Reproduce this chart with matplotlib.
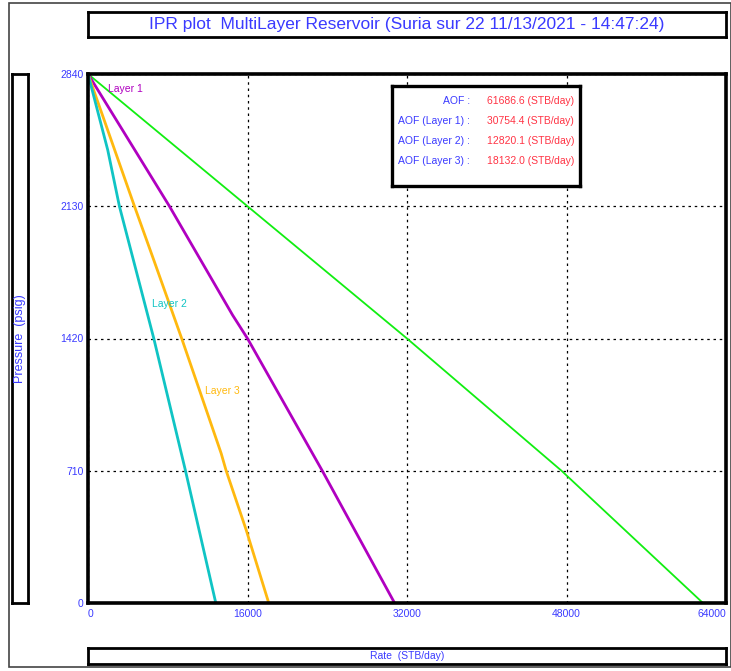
import matplotlib
matplotlib.use("Agg")
import matplotlib.pyplot as plt
from matplotlib.patches import Rectangle

plt.rcParams['font.family'] = ['Liberation Sans Narrow', 'Liberation Sans', 'DejaVu Sans']

# data (rate STB/day vs pressure psig)
layer1_rate = [0, 8170, 14500, 16000, 23500, 30754.4]
layer1_pres = [2840, 2130, 1546, 1420, 710, 0]
layer2_rate = [0, 1980, 3150, 6600, 9780, 12820.1]
layer2_pres = [2840, 2432, 2130, 1420, 710, 0]
layer3_rate = [0, 4660, 6600, 9400, 11180, 13360, 13860, 15870, 18132.0]
layer3_pres = [2840, 2130, 1841, 1420, 1143, 803, 710, 392, 0]
total_rate = [0, 16000, 32000, 47500, 61686.6]
total_pres = [2840, 2130, 1420, 710, 0]

x_ticks = [0, 16000, 32000, 48000, 64000]
y_ticks = [0, 710, 1420, 2130, 2840]

aof_labels = ["AOF :", "AOF (Layer 1) :", "AOF (Layer 2) :", "AOF (Layer 3) :"]
aof_values = ["61686.6 (STB/day)", "30754.4 (STB/day)", "12820.1 (STB/day)", "18132.0 (STB/day)"]

BLUE = '#3a3aff'
RED = '#ff3344'
W, H = 731, 671

fig = plt.figure(figsize=(W / 100, H / 100), dpi=100)


def box(x0, y0, x1, y1, **kw):
    # pixel coords from top-left -> figure fraction axes
    return fig.add_axes([x0 / W, 1 - y1 / H, (x1 - x0) / W, (y1 - y0) / H], **kw)


def plain(a, lw=2.0):
    a.set_xticks([])
    a.set_yticks([])
    for s in a.spines.values():
        s.set_linewidth(lw)
    return a


# outer frame
fig.patches.append(Rectangle((9 / W, 1 - 667 / H), (W - 9) / W, (667 - 3) / H,
                             transform=fig.transFigure, fill=False,
                             edgecolor='#444444', lw=1.2))

# title box
t = plain(box(88, 12, 726, 37))
t.text(0.5, 0.5, "IPR plot  MultiLayer Reservoir (Suria sur 22 11/13/2021 - 14:47:24)",
       ha='center', va='center', color=BLUE, fontsize=12.5, transform=t.transAxes)

# y label box
yl = plain(box(12, 74, 28, 603))
yl.text(0.5, 0.5, "Pressure  (psig)", rotation=90, ha='center', va='center',
        color=BLUE, fontsize=9, transform=yl.transAxes)

# x label box
xl = plain(box(88, 648, 726, 664))
xl.text(0.5, 0.5, "Rate  (STB/day)", ha='center', va='center',
        color=BLUE, fontsize=7.5, transform=xl.transAxes)

# main plot
ax = box(88, 74, 726, 603)
ax.plot(total_rate, total_pres, color='#11ee11', lw=1.3)
ax.plot(layer1_rate, layer1_pres, color='#b000c0', lw=2.0)
ax.plot(layer3_rate, layer3_pres, color='#ffb90f', lw=2.0)
ax.plot(layer2_rate, layer2_pres, color='#10c4c4', lw=2.0)
ax.set_xlim(0, 64000)
ax.set_ylim(0, 2840)
ax.set_xticks(x_ticks)
ax.set_yticks(y_ticks)
ax.set_xticklabels([str(v) for v in x_ticks])
ax.set_yticklabels([str(v) for v in y_ticks])
ax.tick_params(length=0, labelsize=7.5, labelcolor=BLUE, pad=4)
ax.tick_params(axis='y', pad=3)
ax.get_xticklabels()[0].set_ha('left')
ax.get_xticklabels()[-1].set_ha('right')
ax.grid(True, color='black', linestyle=(0, (2, 3)), lw=0.9)
for s in ax.spines.values():
    s.set_linewidth(2.6)

ax.text(2000, 2760, "Layer 1", color='#b000c0', fontsize=7.5, va='center')
ax.text(6400, 1605, "Layer 2", color='#10c4c4', fontsize=7.5, va='center')
ax.text(11700, 1140, "Layer 3", color='#ffb90f', fontsize=7.5, va='center')

# AOF box
lg = plain(box(392, 86, 580, 186, zorder=5), lw=2.4)
lg.set_xlim(392, 580)
lg.set_ylim(186, 86)
for i, (lab, val) in enumerate(zip(aof_labels, aof_values)):
    yy = 101 + 20 * i
    lg.text(470, yy, lab, ha='right', va='center', color=BLUE, fontsize=7.5)
    lg.text(487, yy, val, ha='left', va='center', color=RED, fontsize=7.5)

fig.savefig("out.png", dpi=100)
